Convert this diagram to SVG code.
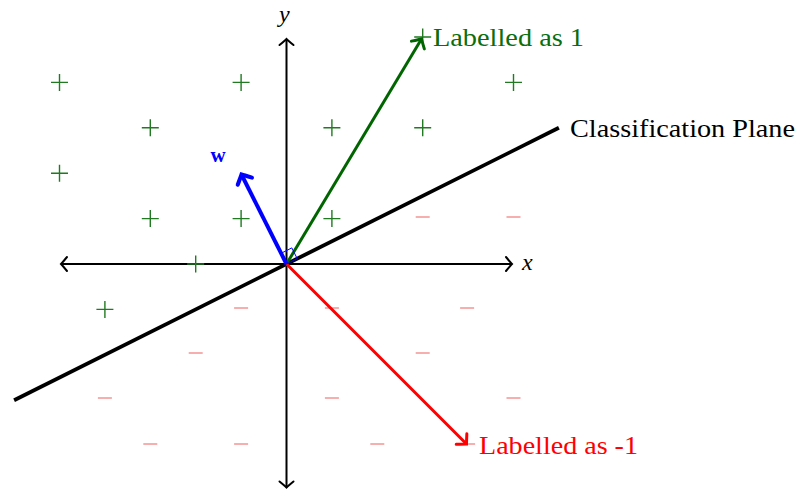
<svg xmlns="http://www.w3.org/2000/svg" width="797" height="489" viewBox="0 0 797 489">
<defs>
<style>
.lbl{font-family:"Liberation Serif","DejaVu Serif",serif;}
.pl{stroke:#217a21;stroke-width:1.4;fill:none;}
.mi{stroke:#f59a9a;stroke-width:1.6;fill:none;}
.ax{stroke:#000;stroke-width:2;fill:none;}
</style>
<marker id="ak" markerUnits="userSpaceOnUse" viewBox="-10 -8 12 16" refX="0" refY="0" markerWidth="12" markerHeight="16" orient="auto-start-reverse" overflow="visible">
<path d="M-6,-7 Q-1.5,-1.5 0,0 Q-1.5,1.5 -6,7" fill="none" stroke="#000" stroke-width="2" stroke-linecap="round"/>
</marker>
<marker id="ag" markerUnits="userSpaceOnUse" viewBox="-10 -8 12 16" refX="0" refY="0" markerWidth="12" markerHeight="16" orient="auto" overflow="visible">
<path d="M-7,-7.5 Q-1.5,-1.5 0,0 Q-1.5,1.5 -7,7.5" fill="none" stroke="#006400" stroke-width="3" stroke-linecap="round"/>
</marker>
<marker id="ar" markerUnits="userSpaceOnUse" viewBox="-10 -8 12 16" refX="0" refY="0" markerWidth="12" markerHeight="16" orient="auto" overflow="visible">
<path d="M-7,-7.5 Q-1.5,-1.5 0,0 Q-1.5,1.5 -7,7.5" fill="none" stroke="#ff0000" stroke-width="3" stroke-linecap="round"/>
</marker>
<marker id="ab" markerUnits="userSpaceOnUse" viewBox="-10 -8 12 16" refX="0" refY="0" markerWidth="12" markerHeight="16" orient="auto" overflow="visible">
<path d="M-7.5,-8 Q-1.5,-1.5 0,0 Q-1.5,1.5 -7.5,8" fill="none" stroke="#0000ff" stroke-width="4" stroke-linecap="round"/>
</marker>
<path id="p" d="M-8.5,0 H8.5 M0,-8.5 V8.5"/>
<path id="m" d="M-7,0 H7"/>
</defs>
<rect width="797" height="489" fill="#fff"/>

<g id="axes">
<line class="ax" x1="61" y1="264" x2="512" y2="264" marker-start="url(#ak)" marker-end="url(#ak)"/>
<line class="ax" x1="286.5" y1="39" x2="286.5" y2="487.5" marker-start="url(#ak)" marker-end="url(#ak)"/>
<text class="lbl" x="522" y="270" font-size="24" font-style="italic">x</text>
<text class="lbl" x="279" y="22" font-size="24" font-style="italic">y</text>
</g>

<g id="points-plus">
<use href="#p" class="pl" x="422.7" y="37"/>
<use href="#p" class="pl" x="59.5" y="82.4"/>
<use href="#p" class="pl" x="241.1" y="82.4"/>
<use href="#p" class="pl" x="513.5" y="82.4"/>
<use href="#p" class="pl" x="150.3" y="127.8"/>
<use href="#p" class="pl" x="331.9" y="127.8"/>
<use href="#p" class="pl" x="422.7" y="127.8"/>
<use href="#p" class="pl" x="59.5" y="173.2"/>
<use href="#p" class="pl" x="150.3" y="218.6"/>
<use href="#p" class="pl" x="241.1" y="218.6"/>
<use href="#p" class="pl" x="331.9" y="218.6"/>
<use href="#p" class="pl" x="195.7" y="264"/>
<use href="#p" class="pl" x="104.9" y="309.4"/>
</g>

<g id="points-minus">
<use href="#m" class="mi" x="422.7" y="217"/>
<use href="#m" class="mi" x="513.5" y="217"/>
<use href="#m" class="mi" x="241.1" y="308"/>
<use href="#m" class="mi" x="331.9" y="308"/>
<use href="#m" class="mi" x="467.1" y="308"/>
<use href="#m" class="mi" x="195.7" y="353"/>
<use href="#m" class="mi" x="422.7" y="353"/>
<use href="#m" class="mi" x="104.9" y="398"/>
<use href="#m" class="mi" x="331.9" y="398"/>
<use href="#m" class="mi" x="513.5" y="398"/>
<use href="#m" class="mi" x="150.3" y="444"/>
<use href="#m" class="mi" x="241.1" y="444"/>
<use href="#m" class="mi" x="377.3" y="444"/>
<use href="#m" class="mi" x="468.1" y="444"/>
</g>

<g id="connectors">
<line x1="14.1" y1="400.2" x2="558.9" y2="127.8" stroke="#000" stroke-width="3.8"/>
<line x1="286.5" y1="264" x2="421.5" y2="39" stroke="#006400" stroke-width="3" marker-end="url(#ag)"/>
<line x1="286.5" y1="264" x2="466.5" y2="444" stroke="#ff0000" stroke-width="3" marker-end="url(#ar)"/>
<line x1="286.5" y1="264" x2="241.5" y2="174.5" stroke="#0000ff" stroke-width="4" marker-end="url(#ab)"/>
<polygon points="286.5,264 297.2,258.6 291.8,247.9 281.1,253.3" fill="none" stroke="#0000ff" stroke-width="1"/>
</g>

<g id="label-w">
<text class="lbl" x="218" y="162" font-size="21" font-weight="bold" fill="#0000ff" text-anchor="middle">w</text>
</g>
<g id="label-plane">
<text class="lbl" x="570" y="137" font-size="25" textLength="225" lengthAdjust="spacingAndGlyphs">Classification Plane</text>
</g>
<g id="label-pos">
<text class="lbl" x="433" y="46" font-size="25" fill="#0a6e0a" textLength="151" lengthAdjust="spacingAndGlyphs">Labelled as 1</text>
</g>
<g id="label-neg">
<text class="lbl" x="479" y="454" font-size="25" fill="#ff0000" textLength="159" lengthAdjust="spacingAndGlyphs">Labelled as -1</text>
</g>
</svg>
